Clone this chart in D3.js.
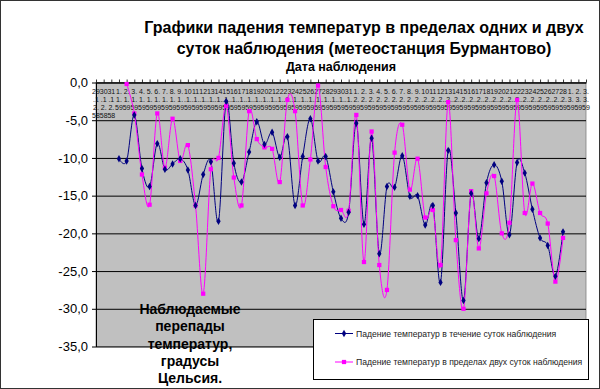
<!DOCTYPE html>
<html><head><meta charset="utf-8">
<script src="https://cdn.jsdelivr.net/npm/d3@7"></script>
<style>
body{margin:0;background:#fff}
svg{display:block}
text{font-family:"Liberation Sans",Arial,sans-serif}
</style>
</head><body>
<svg id="chart" width="600" height="389"></svg>
<script>
// ---------- DATA ----------
const dates = [
 "29.12.58","30.12.58","31.12.58",
 "1.1.59","2.1.59","3.1.59","4.1.59","5.1.59","6.1.59","7.1.59","8.1.59","9.1.59","10.1.59",
 "11.1.59","12.1.59","13.1.59","14.1.59","15.1.59","16.1.59","17.1.59","18.1.59","19.1.59","20.1.59",
 "21.1.59","22.1.59","23.1.59","24.1.59","25.1.59","26.1.59","27.1.59","28.1.59","29.1.59","30.1.59","31.1.59",
 "1.2.59","2.2.59","3.2.59","4.2.59","5.2.59","6.2.59","7.2.59","8.2.59","9.2.59","10.2.59",
 "11.2.59","12.2.59","13.2.59","14.2.59","15.2.59","16.2.59","17.2.59","18.2.59","19.2.59","20.2.59",
 "21.2.59","22.2.59","23.2.59","24.2.59","25.2.59","26.2.59","27.2.59","28.2.59",
 "1.3.59","2.3.59","3.3.59"
];
const yTicks = [0,-5,-10,-15,-20,-25,-30,-35];

const seriesOneName = "Падение температур в течение суток наблюдения";
const seriesOneStart = "1.1.59";
const seriesOne = [-10.1,-10.4,-4.3,-11.4,-13.8,-8.1,-11.5,-10.8,-10.1,-11.6,-16.3,-12.2,-10.5,-18.4,-2.5,
 -10.7,-13.2,-9.2,-5.2,-8.2,-6.6,-9.9,-7.2,-16.3,-9.8,-4.8,-10.4,-9.8,-14.5,-18.0,-17.2,-5.4,-18.8,-7.4,
 -22.7,-13.8,-13.9,-9.7,-15.1,-15.0,-18.9,-16.3,-26.5,-9.0,-17.3,-28.9,-14.7,-20.7,-13.3,-10.9,-13.1,
 -20.2,-10.6,-12.0,-16.8,-20.6,-21.6,-25.7,-19.8];

const seriesTwoName = "Падение температур в пределах двух суток наблюдения";
const seriesTwoStart = "2.1.59";
const seriesTwo = [-0.2,-4.1,-12.2,-16.2,-4.1,-11.3,-4.8,-10.4,-8.3,-16.3,-28.0,-11.5,-10.0,-3.1,-12.6,
 -16.3,-3.8,-7.5,-8.6,-8.8,-13.2,-2.3,-3.8,-16.3,-10.2,-0.4,-11.2,-16.4,-16.9,-17.0,-4.3,-23.8,-6.5,
 -24.2,-27.5,-9.3,-5.6,-14.2,-10.1,-17.9,-16.9,-24.2,-2.6,-20.9,-30.0,-14.4,-22.0,-14.7,-12.4,-20.0,
 -18.6,-2.3,-17.3,-13.4,-17.3,-18.7,-26.4,-20.6];

const titleLines = ["Графики падения температур в пределах одних и двух","суток наблюдения (метеостанция Бурмантово)"];
const xAxisTitle = "Дата наблюдения";
const yAxisTitleLines = ["Наблюдаемые","перепады","температур,","градусы","Цельсия."];

// ---------- LAYOUT ----------
const L = 96, R = 586, T = 82.5, B = 346.5;
const svg = d3.select("#chart");

svg.append("rect").attr("x",0.5).attr("y",0.5).attr("width",599).attr("height",388)
  .attr("fill","#fff").attr("stroke","#333").attr("stroke-width",1);

const x = d3.scalePoint().domain(dates).range([L, R]).padding(0);
const y = d3.scaleLinear().domain([-35, 0]).range([B, T]);

// plot area
svg.append("rect").attr("x",L).attr("y",T).attr("width",R-L).attr("height",B-T)
  .attr("fill","#c0c0c0").attr("stroke","#808080").attr("stroke-width",0.8);

// gridlines
svg.append("g").attr("transform",`translate(${L},0)`)
  .call(d3.axisLeft(y).tickValues(yTicks).tickSize(-(R-L)).tickFormat(""))
  .call(g=>g.select(".domain").remove())
  .call(g=>g.selectAll("line").attr("stroke","#000").attr("stroke-width",1));

// y axis
const loc = d3.formatLocale({decimal:",",thousands:" ",grouping:[3],currency:["",""],minus:"-"});
const fmt = loc.format(".1f");
svg.append("g").attr("transform",`translate(${L},0)`)
  .call(d3.axisLeft(y).tickValues(yTicks).tickSizeInner(4).tickSizeOuter(0).tickPadding(4).tickFormat(fmt))
  .call(g=>g.select(".domain").attr("stroke","#000"))
  .call(g=>g.selectAll("line").attr("stroke","#000"))
  .call(g=>g.selectAll("text").attr("font-size","13px").attr("fill","#000")
    .attr("font-family",'"Liberation Sans",Arial,sans-serif'));

// category axis at top (value 0)
svg.append("g").attr("transform",`translate(0,${y(0)})`)
  .call(d3.axisTop(x).tickSizeInner(3).tickSizeOuter(0).tickFormat(""))
  .call(g=>g.select(".domain").attr("stroke","#000"))
  .call(g=>g.selectAll("line").attr("stroke","#000").attr("stroke-width",0.8));

// wrapped category labels
const fs = 7, maxW = 8.1;
const cw = c => (c === "." ? 0.278 : 0.556) * fs;
function wrap(s){
  const out=[]; let cur="", w=0;
  for (const c of s){
    if (cur && w + cw(c) > maxW){ out.push(cur); cur=""; w=0; }
    cur += c; w += cw(c);
  }
  if (cur) out.push(cur);
  return out;
}
const lab = svg.append("g").attr("font-size",fs+"px").attr("fill","#111").attr("text-anchor","middle");
dates.forEach(d=>{
  const t = lab.append("text").attr("x",x(d)).attr("y",94.3);
  wrap(d).forEach((line,i)=>{
    t.append("tspan").attr("x",x(d)).attr("dy", i===0?0:7.9).text(line);
  });
});

// series data
const s1 = seriesOne.map((v,i)=>({d:dates[dates.indexOf(seriesOneStart)+i], v}));
const s2 = seriesTwo.map((v,i)=>({d:dates[dates.indexOf(seriesTwoStart)+i], v}));

const line = d3.line().x(p=>x(p.d)).y(p=>y(p.v)).curve(d3.curveCardinal.tension(0));

svg.append("path").datum(s1).attr("d",line).attr("fill","none").attr("stroke","#000080").attr("stroke-width",1);
svg.append("path").datum(s2).attr("d",line).attr("fill","none").attr("stroke","#ff00ff").attr("stroke-width",1);

const sq = d3.symbol().type(d3.symbolSquare).size(18);
const di = d3.symbol().type(d3.symbolDiamond).size(16);
svg.append("g").selectAll("path").data(s2).join("path")
  .attr("transform",p=>`translate(${x(p.d)},${y(p.v)})`).attr("d",sq).attr("fill","#ff00ff");
svg.append("g").selectAll("path").data(s1).join("path")
  .attr("transform",p=>`translate(${x(p.d)},${y(p.v)})`).attr("d",di).attr("fill","#000080");

// titles
const tt = svg.append("text").attr("text-anchor","middle").attr("font-weight","bold").attr("font-size","16px").attr("fill","#000");
titleLines.forEach((l,i)=>tt.append("tspan").attr("x",364).attr("y",33+i*20.5).text(l));
svg.append("text").attr("x",(L+R)/2).attr("y",70.5).attr("text-anchor","middle")
  .attr("font-weight","bold").attr("font-size","12.5px").text(xAxisTitle);

const yt = svg.append("text").attr("text-anchor","middle").attr("font-weight","bold").attr("font-size","14px").attr("fill","#000");
yAxisTitleLines.forEach((l,i)=>yt.append("tspan").attr("x",190).attr("y",314+i*17.3).text(l));

// legend
const lg = svg.append("g");
lg.append("rect").attr("x",313.5).attr("y",319.5).attr("width",275).attr("height",60)
  .attr("fill","#fff").attr("stroke","#000").attr("stroke-width",1);
const items = [
  {name:seriesOneName, color:"#000080", sym:di, yy:333.5},
  {name:seriesTwoName, color:"#ff00ff", sym:sq, yy:362}
];
items.forEach(it=>{
  lg.append("line").attr("x1",335).attr("x2",353).attr("y1",it.yy).attr("y2",it.yy)
    .attr("stroke",it.color).attr("stroke-width",1);
  lg.append("path").attr("transform",`translate(344,${it.yy})`).attr("d",it.sym).attr("fill",it.color);
  lg.append("text").attr("x",356).attr("y",it.yy+3).attr("font-size","8.6px").attr("fill","#222").text(it.name);
});
</script>
</body></html>
